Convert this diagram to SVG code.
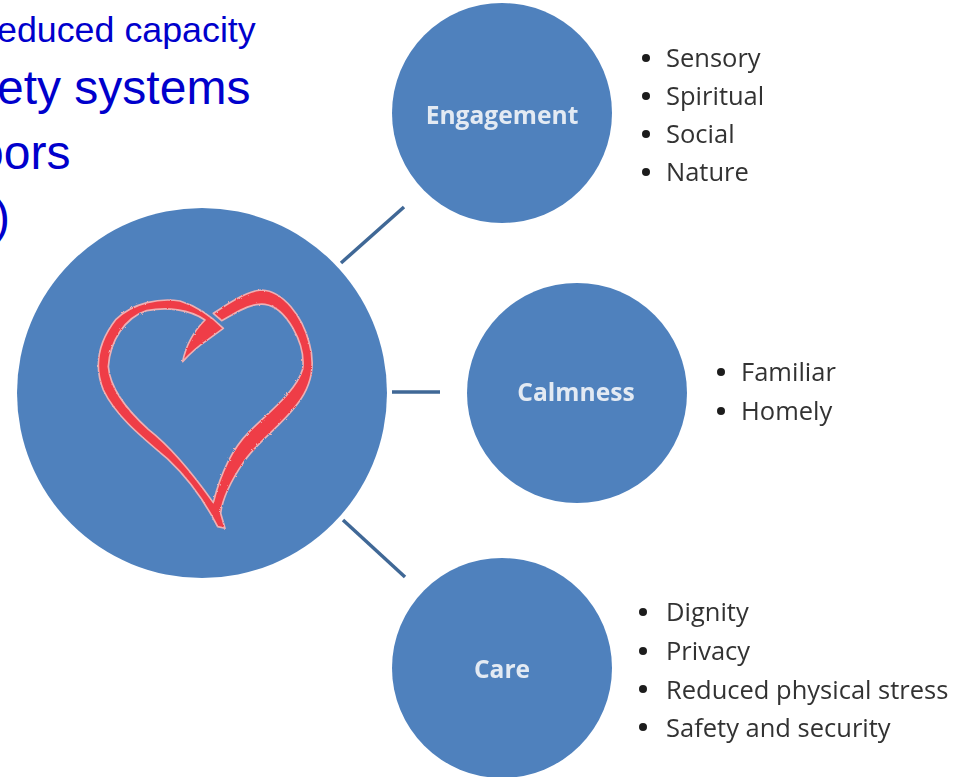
<svg xmlns="http://www.w3.org/2000/svg" width="963" height="777" viewBox="0 0 963 777">
<style>
.hub{fill:#4f81bd}
.lbl{font:bold 24.6px "Open Sans",sans-serif;fill:#e3eaf3;text-anchor:middle}
.item{font:25.5px "Open Sans",sans-serif;fill:#333}
.dot{fill:#1c1c1c}
.conn{stroke:#3f6796;stroke-width:3.5;fill:none}
.top{font-family:"Liberation Sans",Arial,sans-serif;fill:#0000cc}
.soft{filter:url(#soft)}
</style>
<defs>
<filter id="soft" x="-5%" y="-5%" width="110%" height="110%"><feGaussianBlur stdDeviation="0.55"/></filter>
<filter id="chalk" x="-5%" y="-5%" width="110%" height="110%"><feTurbulence type="fractalNoise" baseFrequency="0.12" numOctaves="2" seed="4" result="n"/><feDisplacementMap in="SourceGraphic" in2="n" scale="7"/><feGaussianBlur stdDeviation="1.1"/></filter>
</defs>
<rect width="963" height="777" fill="#fff"/>
<g id="heading">
<text class="top" x="-3" y="42" font-size="35.8">educed capacity</text>
<text class="top" x="-3" y="104" font-size="48">ety systems</text>
<text class="top" x="-23" y="169" font-size="48">oors</text>
<text class="top" x="-6" y="233" font-size="48">)</text>
</g>
<g id="connectors" class="soft">
<line class="conn" x1="341" y1="263" x2="404" y2="207"/>
<line class="conn" x1="392" y1="392" x2="440" y2="392"/>
<line class="conn" x1="343" y1="520" x2="405" y2="577"/>
</g>
<g id="hub"><circle class="hub soft" cx="202" cy="393" r="185"/>
<path filter="url(#chalk)" transform="translate(80 270) scale(.3333)" fill="#ef3c46" stroke="#eeb0b4" stroke-width="5" stroke-linejoin="round" d="M400 130C440 105 500 62 545 60C610 63 668 140 688 220C708 290 692 350 652 402C602 470 532 515 492 575C458 625 428 680 422 730L435 775L413 770C380 705 330 630 262 566C190 505 108 440 70 360C42 290 52 220 108 148C160 98 240 83 300 93C350 108 390 135 430 175L385 208C355 228 330 250 308 275C318 225 340 185 375 150C330 118 260 110 200 122C135 143 90 212 85 290C90 350 135 415 205 478C285 540 352 630 400 698C418 625 448 545 508 485C568 425 648 365 668 298C678 220 618 112 555 103C510 98 470 128 425 152Z"/>
</g>
<g id="engagement" class="soft"><circle class="hub" cx="502" cy="113" r="110"/><text class="lbl" x="502" y="124">Engagement</text>
<circle class="dot" cx="646" cy="58" r="4"/><text class="item" x="666" y="67">Sensory</text>
<circle class="dot" cx="646" cy="96" r="4"/><text class="item" x="666" y="105">Spiritual</text>
<circle class="dot" cx="646" cy="134" r="4"/><text class="item" x="666" y="143">Social</text>
<circle class="dot" cx="646" cy="172" r="4"/><text class="item" x="666" y="181">Nature</text></g>
<g id="calmness" class="soft"><circle class="hub" cx="577" cy="393" r="110"/><text class="lbl" x="576" y="401">Calmness</text>
<circle class="dot" cx="721" cy="372" r="4"/><text class="item" x="741" y="381">Familiar</text>
<circle class="dot" cx="721" cy="411" r="4"/><text class="item" x="741" y="420">Homely</text></g>
<g id="care" class="soft"><circle class="hub" cx="502" cy="668" r="110"/><text class="lbl" x="502" y="678">Care</text>
<circle class="dot" cx="643" cy="612" r="4"/><text class="item" x="666" y="621">Dignity</text>
<circle class="dot" cx="643" cy="651" r="4"/><text class="item" x="666" y="660">Privacy</text>
<circle class="dot" cx="643" cy="689" r="4"/><text class="item" x="666" y="699">Reduced physical stress</text>
<circle class="dot" cx="643" cy="727" r="4"/><text class="item" x="666" y="737">Safety and security</text></g>
</svg>
